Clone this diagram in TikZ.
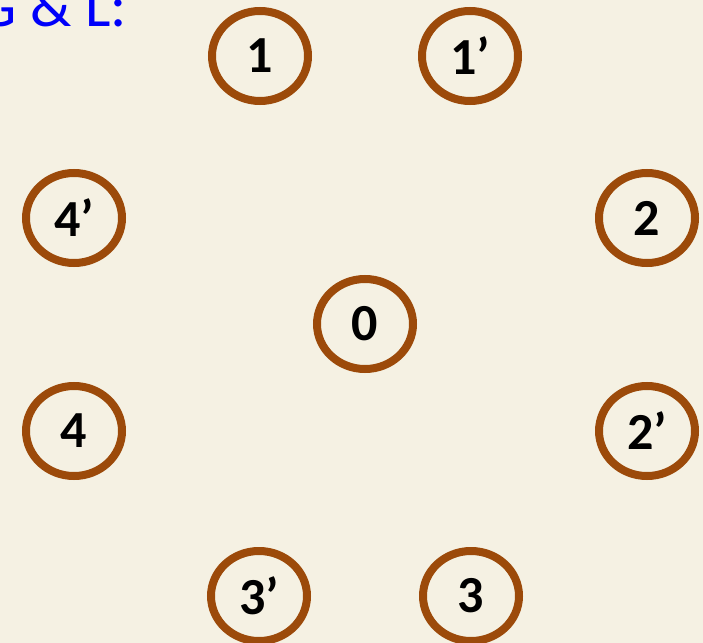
\documentclass[tikz,border=0pt]{standalone}
\usepackage{fontspec}
\setmainfont{Carlito}
\usetikzlibrary{shapes.geometric}
\definecolor{Paper}{RGB}{245,241,227}
\definecolor{Rust}{RGB}{156,74,10}
\definecolor{Ink}{RGB}{0,0,250}

\begin{document}
\begin{tikzpicture}[x=0.025cm,y=-0.025cm,
  site/.style={ellipse,draw=Rust,line width=8*0.025cm,minimum width=96*0.025cm,minimum height=90*0.025cm,inner sep=0pt,font=\fontsize{37}{37}\selectfont\bfseries},
  title/.style={anchor=base east,text=Ink,inner sep=0pt,font=\fontsize{43}{43}\selectfont}]
\fill[Paper] (0,0) rectangle (703,643);
\useasboundingbox (0,0) rectangle (703,643);
\node[title] (head) at (127,27) {G \& L:};
\node[site] (c0) at (365,324) {0};
\node[site] (s1) at (260,56) {1};
\node[site] (p1) at (470,56) {1’};
\node[site] (s2) at (647,218) {2};
\node[site] (p2) at (647,431) {2’};
\node[site] (s3) at (471,596) {3};
\node[site] (p3) at (259,596) {3’};
\node[site] (s4) at (74,431) {4};
\node[site] (p4) at (74,218) {4’};
\end{tikzpicture}
\end{document}
